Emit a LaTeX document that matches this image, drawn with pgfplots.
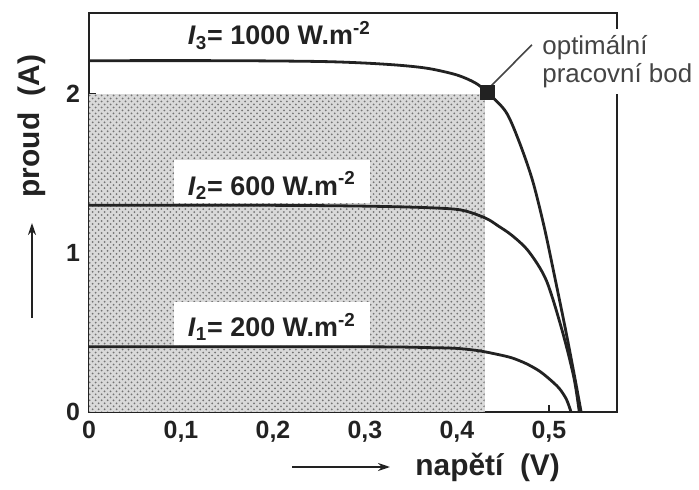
\documentclass[border=0pt]{standalone}
\usepackage{pgfplots}
\pgfplotsset{compat=1.18}
\usepackage{fontspec}
\setmainfont{Liberation Sans}
\usetikzlibrary{patterns,arrows.meta}
\definecolor{ink}{HTML}{222222}
\definecolor{soft}{HTML}{444444}
\begin{document}
\begin{tikzpicture}[x=1bp,y=1bp]
\path[use as bounding box] (-44.5bp,-39bp) rectangle (305bp,206bp);
\begin{axis}[
  at={(0,0)}, anchor=south west,
  scale only axis, width=264bp, height=199.5bp,
  xmin=0, xmax=0.574, ymin=0, ymax=2.51,
  clip=false,
  axis line style={ink, line width=1.2bp},
  xtick={0,0.1,0.2,0.3,0.4,0.5},
  xticklabels={0,{0,1},{0,2},{0,3},{0,4},{0,5}},
  ytick={0,1,2}, yticklabels={0,1,2},
  minor ytick={0.5,1.5},
  xtick pos=bottom, ytick pos=left,
  tick align=inside,
  major tick length=3.5bp, minor tick length=2.5bp,
  tick style={ink, line width=0.9bp},
  ticklabel style={font=\bfseries\fontsize{12.5}{14}\selectfont, text=ink},
  xticklabel style={yshift=-1bp},
  yticklabel style={xshift=-1bp},
]
% shaded power rectangle
\addplot[draw=none, fill=black!15, postaction={pattern=crosshatch dots, pattern color=black!55}]
  coordinates {(0,0) (0,2.0) (0.43,2.0) (0.43,0)} -- cycle;
% label boxes (white backgrounds)
\node[anchor=south west, fill=white, inner xsep=7bp, inner ysep=0pt, text height=17.5bp, text depth=4bp,
  font=\bfseries\fontsize{13.5}{15}\selectfont, text=ink, xshift=-7bp]
  at (axis cs:0.107,1.312) {\textit{I}\textsubscript{2}= 600 W.m\textsuperscript{-2}};
\node[anchor=south west, fill=white, inner xsep=7bp, inner ysep=0pt, text height=17.5bp, text depth=4bp,
  font=\bfseries\fontsize{13.5}{15}\selectfont, text=ink, xshift=-7bp]
  at (axis cs:0.107,0.422) {\textit{I}\textsubscript{1}= 200 W.m\textsuperscript{-2}};
\node[anchor=base west, inner sep=0pt,
  font=\bfseries\fontsize{13.5}{15}\selectfont, text=ink]
  at (axis cs:0.107,2.31) {\textit{I}\textsubscript{3}= 1000 W.m\textsuperscript{-2}};
% curves
\addplot[ink, line width=1.4bp, smooth, tension=0.5] coordinates {
  (0,2.21) (0.15,2.21) (0.25,2.205) (0.30,2.195) (0.34,2.18) (0.37,2.16)
  (0.40,2.12) (0.42,2.07) (0.433,2.01) (0.453,1.89) (0.467,1.71) (0.482,1.46)
  (0.495,1.16) (0.507,0.83) (0.518,0.52) (0.528,0.22) (0.535,0)};
\addplot[ink, line width=1.4bp, smooth, tension=0.5] coordinates {
  (0,1.30) (0.2,1.30) (0.30,1.295) (0.37,1.285) (0.405,1.27) (0.431,1.22)
  (0.445,1.17) (0.46,1.11) (0.478,1.01) (0.497,0.83) (0.514,0.52) (0.527,0.22) (0.533,0)};
\addplot[ink, line width=1.4bp, smooth, tension=0.5] coordinates {
  (0,0.41) (0.3,0.41) (0.37,0.405) (0.40,0.40) (0.424,0.385) (0.446,0.36)
  (0.46,0.34) (0.475,0.305) (0.489,0.26) (0.50,0.21) (0.511,0.15) (0.519,0.08) (0.524,0)};
% optimal point
\addplot[only marks, mark=square*, mark size=3.6bp, mark options={fill=ink, draw=ink}]
  coordinates {(0.433,2.01)};
\draw[soft, line width=0.8bp] (axis cs:0.437,2.05) -- (axis cs:0.4815,2.31);
\node[anchor=west, fill=white, inner sep=3bp, align=left, text=soft,
  font=\fontsize{13}{14}\selectfont]
  at (axis cs:0.486,2.205) {optimální\\pracovní bod};
\end{axis}
% axis labels with arrows
\node[rotate=90, font=\bfseries\fontsize{15}{17}\selectfont, text=ink] at (-28.5bp,143bp) {proud\ \ (A)};
\draw[ink, line width=0.9bp, -{Stealth[length=6bp,width=4bp]}] (-28.5bp,47bp) -- (-28.5bp,94.5bp);
\draw[ink, line width=0.9bp, -{Stealth[length=6bp,width=4bp]}] (101.5bp,-27.5bp) -- (150.5bp,-27.5bp);
\node[anchor=west, inner sep=0pt, font=\bfseries\fontsize{15}{17}\selectfont, text=ink] at (163bp,-27.5bp) {napětí\ \ (V)};
\end{tikzpicture}
\end{document}
